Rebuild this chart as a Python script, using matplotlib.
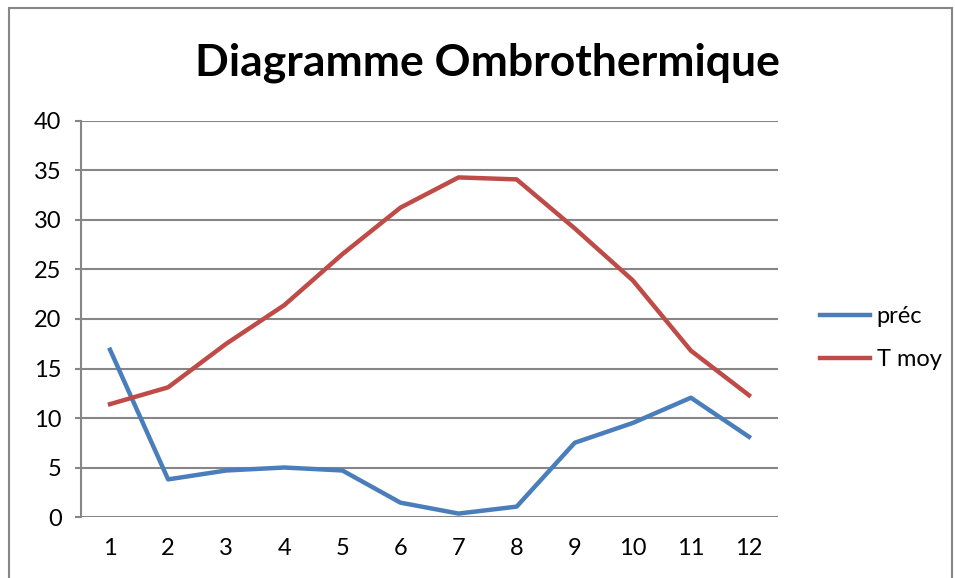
import matplotlib.pyplot as plt
from matplotlib.patches import Rectangle

plt.rcParams['font.family'] = ['Lato', 'DejaVu Sans']

mois = [1, 2, 3, 4, 5, 6, 7, 8, 9, 10, 11, 12]
prec = [16.9, 3.8, 4.7, 5.0, 4.7, 1.45, 0.35, 1.05, 7.5, 9.5, 12.05, 8.1]
t_moy = [11.4, 13.1, 17.5, 21.4, 26.55, 31.25, 34.3, 34.1, 29.15, 23.9, 16.8, 12.3]
y_ticks = [0, 5, 10, 15, 20, 25, 30, 35, 40]

fig = plt.figure(figsize=(9.55, 5.78), dpi=100)
ax = fig.add_axes([0.0848, 0.1055, 0.7299, 0.6852])

ax.plot(mois, prec, color='#4A7EBB', linewidth=3.2, label='préc')
ax.plot(mois, t_moy, color='#BE4B48', linewidth=3.2, label='T moy')

ax.set_xlim(0.5, 12.5)
ax.set_ylim(0, 40)
ax.set_xticks(mois)
ax.set_yticks(y_ticks)
ax.grid(True, axis='y', color='#868686', linewidth=1.5)
ax.set_axisbelow(True)
for s in ['top', 'right', 'bottom']:
    ax.spines[s].set_visible(False)
ax.spines['left'].set_color('#868686')
ax.spines['left'].set_linewidth(1.5)
ax.tick_params(axis='x', length=0, pad=15, labelsize=17)
ax.tick_params(axis='y', length=4, color='#868686', width=1.5, pad=10, labelsize=17)

fig.text(0.51, 0.891, 'Diagramme Ombrothermique', ha='center', va='center',
         fontsize=32, fontweight='bold')

fig.legend(loc='center left', bbox_to_anchor=(0.8586, 0.415), frameon=False,
           fontsize=17, handlelength=2.1, handletextpad=0.3, labelspacing=0.95,
           borderpad=0, borderaxespad=0)

fig.patches.append(Rectangle((9 / 955, -0.1), 943 / 955, 1.086, transform=fig.transFigure,
                             fill=False, edgecolor='#868686', linewidth=1.5))

fig.savefig('out.png', dpi=100)
